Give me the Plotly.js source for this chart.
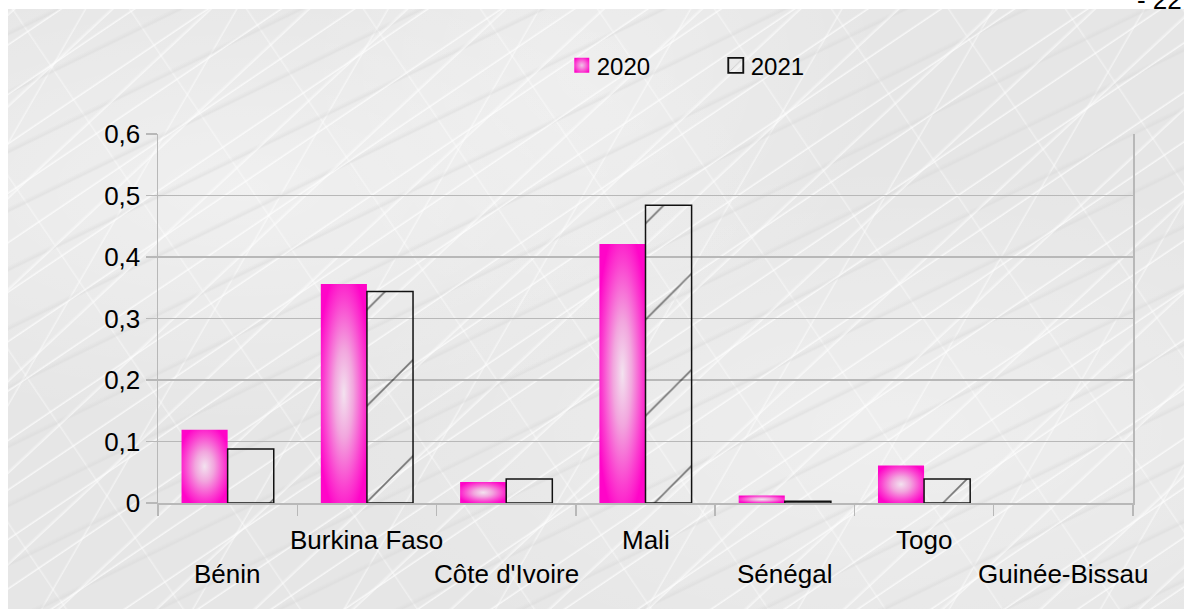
<!DOCTYPE html>
<html>
<head>
<meta charset="utf-8">
<script src="https://cdn.plot.ly/plotly-3.0.1.min.js"></script>
<style>
  html, body { margin: 0; padding: 0; background: #ffffff; }
  body { width: 1184px; height: 609px; overflow: hidden; position: relative; }
  #marble {
    position: absolute; left: 8px; top: 9px; right: 0; bottom: 0;
    background-color: #e6e6e6;
    background-image:
      repeating-linear-gradient(-34deg, rgba(255,255,255,0) 0px, rgba(255,255,255,0) 17px, rgba(255,255,255,0.7) 18px, rgba(255,255,255,0) 20px, rgba(255,255,255,0) 41px),
      repeating-linear-gradient(-43deg, rgba(255,255,255,0) 0px, rgba(255,255,255,0) 29px, rgba(255,255,255,0.6) 30px, rgba(255,255,255,0) 33px, rgba(255,255,255,0) 67px),
      repeating-linear-gradient(-26deg, rgba(215,215,215,0) 0px, rgba(215,215,215,0) 23px, rgba(215,215,215,0.45) 25px, rgba(215,215,215,0) 29px, rgba(215,215,215,0) 53px),
      repeating-linear-gradient(56deg, rgba(255,255,255,0) 0px, rgba(255,255,255,0) 47px, rgba(255,255,255,0.4) 48px, rgba(255,255,255,0) 50px, rgba(255,255,255,0) 97px),
      repeating-linear-gradient(-60deg, rgba(255,255,255,0) 0px, rgba(255,255,255,0) 71px, rgba(255,255,255,0.5) 72px, rgba(255,255,255,0) 74px, rgba(255,255,255,0) 131px),
      radial-gradient(ellipse at 20% 30%, rgba(255,255,255,0.4), rgba(255,255,255,0) 40%),
      radial-gradient(ellipse at 75% 70%, rgba(255,255,255,0.35), rgba(255,255,255,0) 45%),
      radial-gradient(ellipse at 50% 10%, rgba(255,255,255,0.3), rgba(255,255,255,0) 35%);
  }
  #chart { position: absolute; left: 0; top: 0; width: 1184px; height: 609px; }
  #defs { position: absolute; width: 0; height: 0; }
</style>
</head>
<body>
<div id="marble"></div>
<svg id="defs" aria-hidden="true">
  <defs>
    <radialGradient id="pinkGlow" cx="50%" cy="50%" r="58%">
      <stop offset="0%" stop-color="#f3e2ef"/>
      <stop offset="35%" stop-color="#f2a6de"/>
      <stop offset="75%" stop-color="#fb3fd0"/>
      <stop offset="100%" stop-color="#ff05c8"/>
    </radialGradient>
    <radialGradient id="pinkSwatch" cx="50%" cy="50%" r="60%">
      <stop offset="0%" stop-color="#efc2e6"/>
      <stop offset="45%" stop-color="#f870d8"/>
      <stop offset="100%" stop-color="#ff05c8"/>
    </radialGradient>
  </defs>
</svg>
<div id="chart"></div>
<script>
// Countries and yearly values
const countries = ['Bénin', 'Burkina Faso', "Côte d'Ivoire", 'Mali', 'Sénégal', 'Togo', 'Guinée-Bissau'];
const values2020 = [0.119, 0.356, 0.034, 0.421, 0.012, 0.061, 0];
const values2021 = [0.088, 0.344, 0.039, 0.484, 0.003, 0.039, 0];
const yTickVals = [0, 0.1, 0.2, 0.3, 0.4, 0.5, 0.6];
const yTickText = ['0', '0,1', '0,2', '0,3', '0,4', '0,5', '0,6'];

const idx = countries.map((_, i) => i);
const FONT = 'Liberation Sans, Arial, sans-serif';
const GRID = '#b8b8b8';

const traces = [
  {
    type: 'bar', name: '2020', x: idx, y: values2020,
    marker: { color: '#ff05c8', line: { width: 0 } },
    hoverinfo: 'skip'
  },
  {
    type: 'bar', name: '2021', x: idx, y: values2021,
    marker: {
      color: 'rgba(0,0,0,0)',
      // no outline where there is nothing to draw
      line: { color: '#111111', width: values2021.map(v => (v > 0 ? 1.5 : 0)) },
      pattern: { shape: '/', size: 68, solidity: 0.024, fgcolor: '#000000', bgcolor: 'rgba(0,0,0,0)', fillmode: 'overlay' }
    },
    hoverinfo: 'skip'
  }
];

// Staggered category labels: even positions on the lower row
const labelAnnotations = countries.map((c, i) => ({
  x: i, xref: 'x', yref: 'paper',
  y: i % 2 === 0 ? -0.193 : -0.1,
  yanchor: 'middle', xanchor: 'center',
  text: c, showarrow: false,
  font: { family: FONT, size: 26, color: '#000000' }
}));

const layout = {
  width: 1184, height: 609,
  margin: { l: 158, r: 51, t: 134, b: 106, pad: 0 },
  paper_bgcolor: 'rgba(0,0,0,0)',
  plot_bgcolor: 'rgba(0,0,0,0)',
  barmode: 'group', bargap: 0.338, bargroupgap: 0,
  font: { family: FONT, size: 26, color: '#000000' },
  title: {
    text: '- 22 -', xref: 'container', yref: 'container',
    x: 0.9603, xanchor: 'left', y: 1.0, yanchor: 'middle',
    font: { family: FONT, size: 26, color: '#000000' }
  },
  showlegend: true,
  legend: {
    orientation: 'h', x: 0.409, xanchor: 'left', y: 1.185, yanchor: 'middle',
    font: { family: FONT, size: 24, color: '#000000' },
    bgcolor: 'rgba(0,0,0,0)', entrywidth: 109, entrywidthmode: 'pixels',
    traceorder: 'normal'
  },
  xaxis: {
    range: [-0.5, countries.length - 0.5],
    tickmode: 'array',
    tickvals: idx.map(i => i - 0.5).concat([countries.length - 0.5]),
    ticktext: idx.map(() => '').concat(['']),
    ticks: 'outside', ticklen: 11, tickcolor: GRID, tickwidth: 1.5,
    showgrid: false, zeroline: false,
    showline: true, linecolor: GRID, linewidth: 1.5,
    fixedrange: true
  },
  yaxis: {
    range: [0, 0.6],
    tickmode: 'array', tickvals: yTickVals, ticktext: yTickText,
    ticks: 'outside', ticklen: 11, tickcolor: GRID, tickwidth: 1.5,
    tickfont: { family: FONT, size: 26, color: '#000000' },
    showgrid: true, gridcolor: GRID, gridwidth: 1.5,
    zeroline: false,
    showline: true, mirror: true, linecolor: GRID, linewidth: 1.5,
    fixedrange: true
  },
  annotations: labelAnnotations
};

Plotly.newPlot('chart', traces, layout, { displayModeBar: false, staticPlot: true }).then(gd => {
  // Pink glow fill for the 2020 bars
  const barLayers = gd.querySelectorAll('.barlayer .trace.bars');
  if (barLayers[0]) {
    barLayers[0].querySelectorAll('.point path').forEach(p => { p.style.fill = 'url(#pinkGlow)'; });
  }
  // Larger legend swatches, placed close to their labels
  gd.querySelectorAll('.legend .traces').forEach((t, i) => {
    t.querySelectorAll('.legendpoints path').forEach(p => {
      p.setAttribute('transform', 'translate(25,0) scale(1.25)');
      if (i === 0) {
        p.style.fill = 'url(#pinkSwatch)';
        p.style.stroke = 'none';
      }
    });
  });
});
</script>
</body>
</html>
